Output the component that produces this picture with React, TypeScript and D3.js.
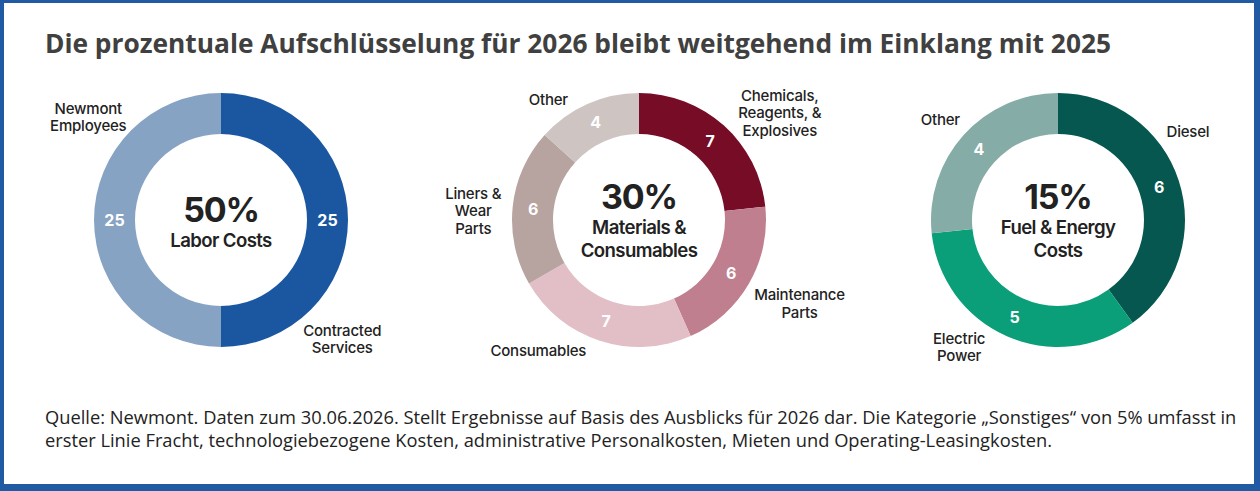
import React from "react";
import * as d3 from "d3";

// Chart data
const laborNames = ["Contracted Services", "Newmont Employees"];
const laborValues = [25, 25];
const laborColors = ["#1b57a1", "#87a3c4"];

const materialNames = [
  "Chemicals, Reagents, & Explosives",
  "Maintenance Parts",
  "Consumables",
  "Liners & Wear Parts",
  "Other",
];
const materialValues = [7, 6, 7, 6, 4];
const materialColors = ["#760c26", "#c07f8f", "#e2bfc7", "#b7a39f", "#cec5c3"];

const fuelNames = ["Diesel", "Electric Power", "Other"];
const fuelValues = [6, 5, 4];
const fuelColors = ["#06574f", "#0a9f79", "#86aca7"];

const totals = ["50%", "30%", "15%"];
const centerTitles = [["Labor Costs"], ["Materials &", "Consumables"], ["Fuel & Energy", "Costs"]];

const title = "Die prozentuale Aufschlüsselung für 2026 bleibt weitgehend im Einklang mit 2025";
const note = [
  "Quelle: Newmont. Daten zum 30.06.2026. Stellt Ergebnisse auf Basis des Ausblicks für 2026 dar. Die Kategorie „Sonstiges“ von 5% umfasst in",
  "erster Linie Fracht, technologiebezogene Kosten, administrative Personalkosten, Mieten und Operating-Leasingkosten.",
];

// label line breaks + placement (angle in degrees, distance from center)
const labelLines: Record<string, string[]> = {
  "Contracted Services": ["Contracted", "Services"],
  "Newmont Employees": ["Newmont", "Employees"],
  "Chemicals, Reagents, & Explosives": ["Chemicals,", "Reagents, &", "Explosives"],
  "Maintenance Parts": ["Maintenance", "Parts"],
  "Liners & Wear Parts": ["Liners &", "Wear", "Parts"],
  "Electric Power": ["Electric", "Power"],
};
const labelPlace = [
  [[134.5, 170], [307.8, 168]],
  [[52.7, 177], [117.5, 181], [217.6, 165], [273.1, 166], [323.1, 151]],
  [[55.9, 157], [217.9, 161], [310.6, 155]],
];

const W = 1260;
const H = 491;
const CY = 220;
const centers = [221, 639, 1058];
const R = 127;
const r = 86;

const labelFont = "Inter, 'Liberation Sans', Arial, sans-serif";

interface DonutProps {
  idx: number;
  names: string[];
  values: number[];
  colors: string[];
}

const Donut: React.FC<DonutProps> = ({ idx, names, values, colors }) => {
  const cx = centers[idx];
  const pie = d3.pie<number>().sort(null).value((d) => d);
  const arcs = pie(values);
  const arc = d3.arc<d3.PieArcDatum<number>>().innerRadius(r).outerRadius(R);
  const lines = centerTitles[idx];
  const twoLine = lines.length > 1;

  return (
    <g transform={`translate(${cx},${CY})`}>
      {arcs.map((a, i) => (
        <path key={i} d={arc(a) || ""} fill={colors[i]} />
      ))}
      {arcs.map((a, i) => {
        const [x, y] = arc.centroid(a);
        return (
          <text
            key={"v" + i}
            x={x}
            y={y}
            dy="0.36em"
            textAnchor="middle"
            fill="#fff"
            fontSize={16}
            fontWeight={700}
            fontFamily={labelFont}
          >
            {values[i]}
          </text>
        );
      })}
      {names.map((n, i) => {
        const [deg, dist] = labelPlace[idx][i];
        const [x, y] = d3.pointRadial((deg * Math.PI) / 180, dist);
        const ls = labelLines[n] || [n];
        const lh = 17.5;
        const y0 = y - ((ls.length - 1) * lh) / 2;
        return (
          <text
            key={"l" + i}
            textAnchor="middle"
            fill="#222"
            fontSize={15}
            fontWeight={500}
            letterSpacing={-0.2}
            fontFamily={labelFont}
          >
            {ls.map((s, j) => (
              <tspan key={j} x={x} y={y0 + j * lh} dy="0.36em">
                {s}
              </tspan>
            ))}
          </text>
        );
      })}
      <text
        y={twoLine ? -11 : 2}
        textAnchor="middle"
        fill="#222"
        fontSize={34}
        fontWeight={700}
        letterSpacing={-1.2}
        fontFamily={labelFont}
      >
        {totals[idx]}
      </text>
      {lines.map((s, j) => (
        <text
          key={"c" + j}
          y={(twoLine ? 14 : 27) + j * 23}
          textAnchor="middle"
          fill="#222"
          fontSize={18.6}
          fontWeight={600}
          letterSpacing={-0.6}
          fontFamily={labelFont}
        >
          {s}
        </text>
      ))}
    </g>
  );
};

const App: React.FC = () => {
  return (
    <svg
      width={W}
      height={H}
      viewBox={`0 0 ${W} ${H}`}
      style={{ position: "absolute", left: 0, top: 0, background: "#fff" }}
    >
      <rect x={0} y={0} width={W} height={H} fill="#1f5aa3" />
      <rect x={4} y={3} width={W - 10} height={H - 10} fill="#fff" />
      <text
        x={45}
        y={53}
        fill="#404040"
        fontSize={26.3}
        fontWeight={700}
        fontFamily="'Open Sans', sans-serif"
      >
        {title}
      </text>
      <Donut idx={0} names={laborNames} values={laborValues} colors={laborColors} />
      <Donut idx={1} names={materialNames} values={materialValues} colors={materialColors} />
      <Donut idx={2} names={fuelNames} values={fuelValues} colors={fuelColors} />
      {note.map((s, i) => (
        <text
          key={i}
          x={45}
          y={424 + i * 23}
          fill="#222"
          fontSize={18.3}
          fontFamily="'Open Sans', sans-serif"
        >
          {s}
        </text>
      ))}
    </svg>
  );
};

export default App;
